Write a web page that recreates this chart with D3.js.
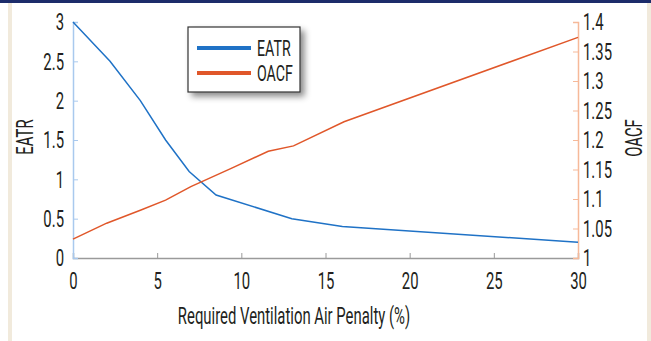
<!DOCTYPE html>
<html>
<head>
<meta charset="utf-8">
<script src="https://d3js.org/d3.v7.min.js"></script>
<style>
  body { margin: 0; background: #fff; }
  svg text { font-family: "Roboto", "Liberation Sans", sans-serif; fill: #231f20; }
</style>
</head>
<body>
<svg width="651" height="341"></svg>
<script>

// data
var eatrX = [0, 2.2, 4, 5.5, 6.9, 8.5, 13, 16, 30];
var eatrY = [3, 2.5, 2.0, 1.5, 1.1, 0.8, 0.5, 0.4, 0.2];
var oacfX = [0, 2, 4, 5.5, 7, 9.4, 11.6, 13.1, 16.1, 30];
var oacfY = [1.032, 1.059, 1.081, 1.098, 1.121, 1.152, 1.181, 1.19, 1.231, 1.374];
var xTicks = [0, 5, 10, 15, 20, 25, 30];
var leftTicks = [0, 0.5, 1, 1.5, 2, 2.5, 3];
var rightTicks = [1, 1.05, 1.1, 1.15, 1.2, 1.25, 1.3, 1.35, 1.4];
var seriesNames = ["EATR", "OACF"];
var seriesColors = ["#1f72c6", "#e0572a"];

var svg = d3.select("svg"),
    margin = {top: 22, right: 73, bottom: 83, left: 73},
    width = +svg.attr("width") - margin.left - margin.right,
    height = +svg.attr("height") - margin.top - margin.bottom;

var sx = 0.62; // squeeze text to look condensed

// page frame
svg.append("rect").attr("x", 0).attr("y", 0).attr("width", 651).attr("height", 3).attr("fill", "#1c2c6a");
svg.append("rect").attr("x", 8).attr("y", 3).attr("width", 4).attr("height", 338).attr("fill", "#f1eadc");
svg.append("rect").attr("x", 647).attr("y", 3).attr("width", 4).attr("height", 338).attr("fill", "#f1eadc");

var x = d3.scaleLinear().domain([0, 30]).range([0, width]);
var yL = d3.scaleLinear().domain([0, 3]).range([height, 0]);
var yR = d3.scaleLinear().domain([1, 1.4]).range([height, 0]);

var g = svg.append("g").attr("transform", "translate(" + margin.left + "," + margin.top + ")");

function squeeze(sel) {
  sel.selectAll("text").each(function() {
    var t = d3.select(this);
    var tx = +t.attr("x") || 0;
    t.attr("x", tx / sx).attr("transform", "scale(" + sx + ",1)");
  });
}

// x axis
var gx = g.append("g").attr("transform", "translate(0," + height + ")")
  .call(d3.axisTop(x).tickValues(xTicks).tickSize(5).tickFormat(d3.format("d")));
gx.select(".domain").attr("stroke", "#9a9a9a").attr("stroke-width", 1.5);
gx.selectAll(".tick line").attr("stroke", "#9a9a9a");
gx.selectAll("text").attr("y", 14).attr("dy", "0.71em").attr("font-size", 24);
squeeze(gx);

// left axis
var gl = g.append("g")
  .call(d3.axisRight(yL).tickValues(leftTicks).tickSize(5).tickFormat(function(d) { return d; }));
gl.select(".domain").attr("stroke", "#a9c9ee").attr("stroke-width", 1.5);
gl.selectAll(".tick line").attr("stroke", "#a9c9ee");
gl.selectAll("text").attr("x", -9).attr("text-anchor", "end").attr("font-size", 24);
squeeze(gl);

// right axis
var gr = g.append("g").attr("transform", "translate(" + width + ",0)")
  .call(d3.axisLeft(yR).tickValues(rightTicks).tickSize(5).tickFormat(function(d) { return d; }));
gr.select(".domain").attr("stroke", "#f6b999").attr("stroke-width", 1.5);
gr.selectAll(".tick line").attr("stroke", "#f6b999");
gr.selectAll("text").attr("x", 5).attr("text-anchor", "start").attr("font-size", 24);
squeeze(gr);

// lines
var lineL = d3.line().x(function(d) { return x(d[0]); }).y(function(d) { return yL(d[1]); });
var lineR = d3.line().x(function(d) { return x(d[0]); }).y(function(d) { return yR(d[1]); });

g.append("path")
  .datum(d3.zip(eatrX, eatrY))
  .attr("fill", "none").attr("stroke", seriesColors[0]).attr("stroke-width", 1.5)
  .attr("d", lineL);
g.append("path")
  .datum(d3.zip(oacfX, oacfY))
  .attr("fill", "none").attr("stroke", seriesColors[1]).attr("stroke-width", 1.5)
  .attr("d", lineR);

// axis titles
svg.append("text")
  .attr("transform", "translate(294,316) scale(" + sx + ",1)")
  .attr("text-anchor", "middle").attr("dy", "0.35em")
  .attr("font-size", 24)
  .text("Required Ventilation Air Penalty (%)");
svg.append("text")
  .attr("transform", "translate(25,137) rotate(-90) scale(" + sx + ",1)")
  .attr("text-anchor", "middle").attr("dy", "0.35em")
  .attr("font-size", 24)
  .text("EATR");
svg.append("text")
  .attr("transform", "translate(634,138) rotate(-90) scale(" + sx + ",1)")
  .attr("text-anchor", "middle").attr("dy", "0.35em")
  .attr("font-size", 24)
  .text("OACF");

// legend
var defs = svg.append("defs");
var f = defs.append("filter").attr("id", "shadow").attr("x", "-20%").attr("y", "-20%").attr("width", "150%").attr("height", "160%");
f.append("feDropShadow").attr("dx", 4).attr("dy", 4).attr("stdDeviation", 3).attr("flood-color", "#000").attr("flood-opacity", 0.45);

var lg = svg.append("g").attr("transform", "translate(188,27)");
lg.append("rect").attr("width", 112).attr("height", 65)
  .attr("fill", "#fff").attr("stroke", "#333").attr("stroke-width", 1.2)
  .attr("filter", "url(#shadow)");
seriesNames.forEach(function(name, i) {
  var yy = 21 + i * 25;
  lg.append("line").attr("x1", 9).attr("x2", 63).attr("y1", yy).attr("y2", yy)
    .attr("stroke", seriesColors[i]).attr("stroke-width", 4);
  lg.append("text").attr("transform", "translate(69," + yy + ") scale(0.66,1)")
    .attr("dy", "0.35em").attr("font-size", 21.5).text(name);
});

</script>
</body>
</html>
